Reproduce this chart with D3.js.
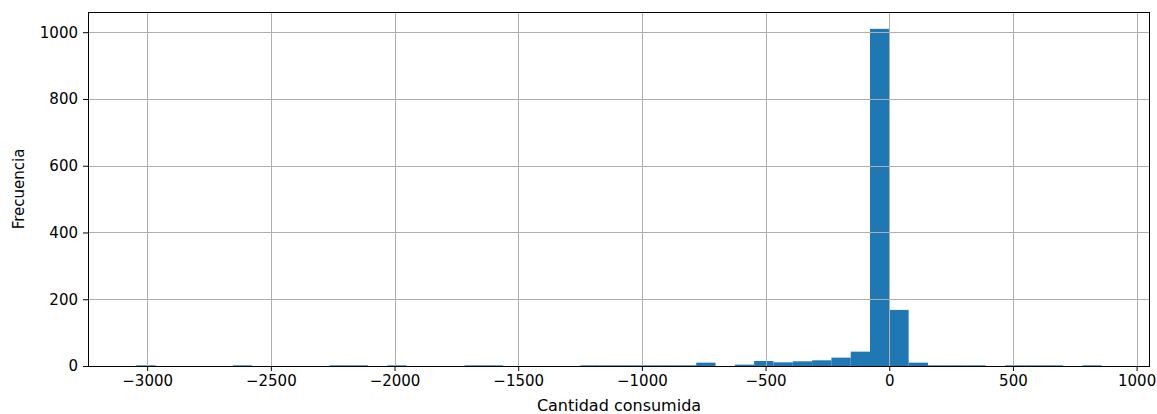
<!DOCTYPE html>
<html>
<head>
<meta charset="utf-8">
<script src="https://cdn.jsdelivr.net/npm/d3@7"></script>
<style>
  html, body { margin: 0; padding: 0; background: #fff; }
  svg { display: block; }
  text { font-family: "DejaVu Sans", sans-serif; fill: #000; }
</style>
</head>
<body>
<svg id="chart" width="1157" height="414"></svg>
<script>
// ---- data ----
const dataMin = -3044;
const dataMax = 859;
const binCount = 50;
const counts = [
  2, 0, 0, 0, 0, 2, 0, 0, 0, 0,
  2, 2, 0, 2, 0, 0, 0, 2, 2, 0,
  0, 0, 0, 2, 2, 2, 2, 2, 2, 10,
  0, 4, 15, 11, 14, 17, 25, 43, 1010, 168,
  10, 2, 2, 2, 0, 2, 2, 2, 0, 2
];
const xTicks = [-3000, -2500, -2000, -1500, -1000, -500, 0, 500, 1000];
const yTicks = [0, 200, 400, 600, 800, 1000];
const xLabel = "Cantidad consumida";
const yLabel = "Frecuencia";

// ---- layout ----
const W = 1157, H = 414;
const m = { left: 88, right: 1150, top: 12, bottom: 366 };
const svg = d3.select("#chart");

const span = dataMax - dataMin;
const binW = span / binCount;
const bins = counts.map((c, i) => ({ x0: dataMin + i * binW, x1: dataMin + (i + 1) * binW, c }));

const x = d3.scaleLinear()
  .domain([dataMin - 0.05 * span, dataMax + 0.05 * span])
  .range([m.left, m.right]);
const yMax = d3.max(counts) * 1.05;
const y = d3.scaleLinear().domain([0, yMax]).range([m.bottom, m.top]);

// bars
svg.append("g").selectAll("rect").data(bins.filter(b => b.c > 0)).join("rect")
  .attr("x", d => x(d.x0))
  .attr("width", d => x(d.x1) - x(d.x0))
  .attr("y", d => y(d.c))
  .attr("height", d => y(0) - y(d.c))
  .attr("fill", "#1f77b4");

// grid (above bars, like matplotlib)
const grid = svg.append("g").attr("stroke", "#b0b0b0").attr("stroke-width", 1);
xTicks.forEach(t => {
  const px = Math.round(x(t)) + 0.5;
  grid.append("line").attr("x1", px).attr("x2", px).attr("y1", m.top).attr("y2", m.bottom);
});
yTicks.forEach(t => {
  const py = Math.round(y(t)) + 0.5;
  grid.append("line").attr("x1", m.left).attr("x2", m.right).attr("y1", py).attr("y2", py);
});

// axes
const fmt = d => (d < 0 ? "\u2212" + Math.abs(d) : String(d));
const xAxis = d3.axisBottom(x).tickValues(xTicks).tickFormat(fmt).tickSize(5).tickPadding(4);
const yAxis = d3.axisLeft(y).tickValues(yTicks).tickFormat(fmt).tickSize(5).tickPadding(5);

const gx = svg.append("g").attr("transform", `translate(0,${m.bottom})`).call(xAxis);
const gy = svg.append("g").attr("transform", `translate(${m.left},0)`).call(yAxis);
[gx, gy].forEach(g => {
  g.select(".domain").remove();
  g.selectAll(".tick line").attr("stroke", "#000").attr("stroke-width", 1);
  g.selectAll(".tick text").attr("font-family", "DejaVu Sans").attr("font-size", 15).attr("fill", "#222");
});

// spines
svg.append("rect")
  .attr("x", m.left + 0.5).attr("y", m.top + 0.5)
  .attr("width", m.right - m.left - 1).attr("height", m.bottom - m.top)
  .attr("fill", "none").attr("stroke", "#000").attr("stroke-width", 1);

// labels
svg.append("text")
  .attr("x", (m.left + m.right) / 2).attr("y", 411)
  .attr("text-anchor", "middle").attr("font-size", 16).attr("fill", "#222")
  .text(xLabel);
svg.append("text")
  .attr("transform", `translate(24,${(m.top + m.bottom) / 2}) rotate(-90)`)
  .attr("text-anchor", "middle").attr("font-size", 15).attr("fill", "#222")
  .text(yLabel);
</script>
</body>
</html>
